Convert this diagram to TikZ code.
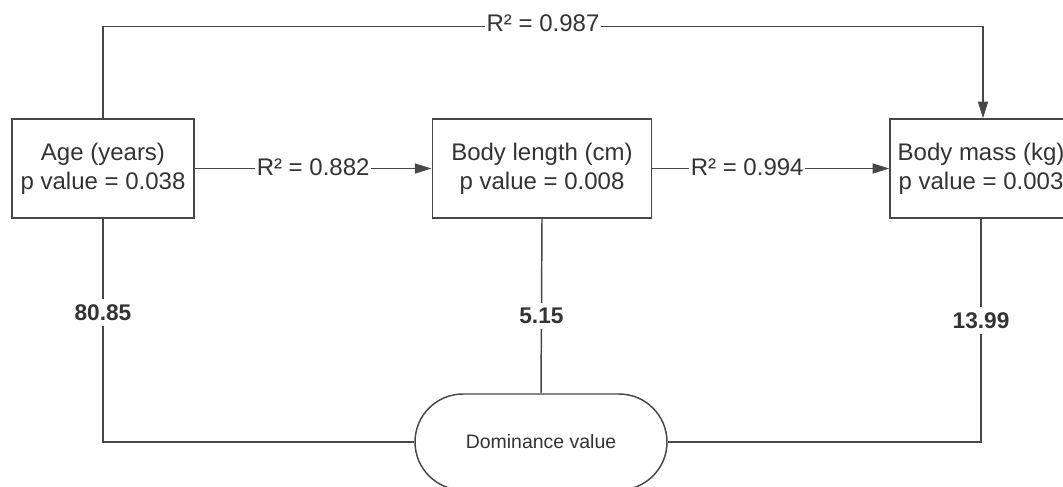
\documentclass[tikz,border=0pt]{standalone}
\usepackage{fontspec}
\setmainfont{Liberation Sans}
\usetikzlibrary{arrows.meta}
\definecolor{ink}{HTML}{333333}
\definecolor{edgec}{HTML}{474747}
\begin{document}
\begin{tikzpicture}[x=0.75pt,y=-0.75pt,
  box/.style={draw=edgec, line width=1.1pt, fill=white, minimum height=74.25pt, align=center, text=ink, font=\fontsize{18}{21.6}\selectfont, inner sep=0pt},
  dombox/.style={draw=edgec, line width=1.1pt, fill=white, minimum width=189pt, minimum height=72pt, rounded corners=36pt, text=ink, font=\fontsize{14.6}{17}\selectfont},
  conn/.style={draw=edgec, line width=1.1pt},
  arr/.style={conn, -{Triangle[length=12.5pt,width=7.5pt]}},
  rlab/.style={fill=white, text=ink, font=\fontsize{18}{21.6}\selectfont, inner xsep=1pt, inner ysep=1pt},
  vlab/.style={fill=white, text=ink, font=\bfseries\fontsize{17}{20}\selectfont, inner xsep=2pt, inner ysep=4pt}]
\useasboundingbox (0,0) rectangle (1063,486);
\clip (0,0) rectangle (1063,486);
\node[box, minimum width=136.5pt] (age) at (103,168.5) {Age (years)\\p value = 0.038};
\node[box, minimum width=164.6pt] (len) at (542,168.5) {Body length (cm)\\p value = 0.008};
\node[box, minimum width=136.5pt] (mass) at (981,168.5) {Body mass (kg)\\p value = 0.003};
\node[dombox] (dom) at (541,442) {Dominance value};
\path (age.north) ++(0,-92) coordinate (tl);
\path (mass.north) ++(2,-92) coordinate (tr);
\draw[arr] (age) -- node[rlab, yshift=1pt]{R² = 0.882} (len);
\draw[arr] (len) -- node[rlab, pos=0.4, yshift=1pt]{R² = 0.994} (mass);
\draw[arr] (age.north) -- (tl) -- node[rlab, yshift=2pt]{R² = 0.987} (tr) -- (tr |- mass.north);
\draw[conn] (age.south) -- node[vlab, pos=0.42]{80.85} (age.south |- dom.west) -- (dom.west);
\draw[conn] (len.south) -- node[vlab, pos=0.557]{5.15} (dom.north);
\draw[conn] (mass.south) -- node[vlab, pos=0.457]{13.99} (mass.south |- dom.east) -- (dom.east);
\end{tikzpicture}
\end{document}
